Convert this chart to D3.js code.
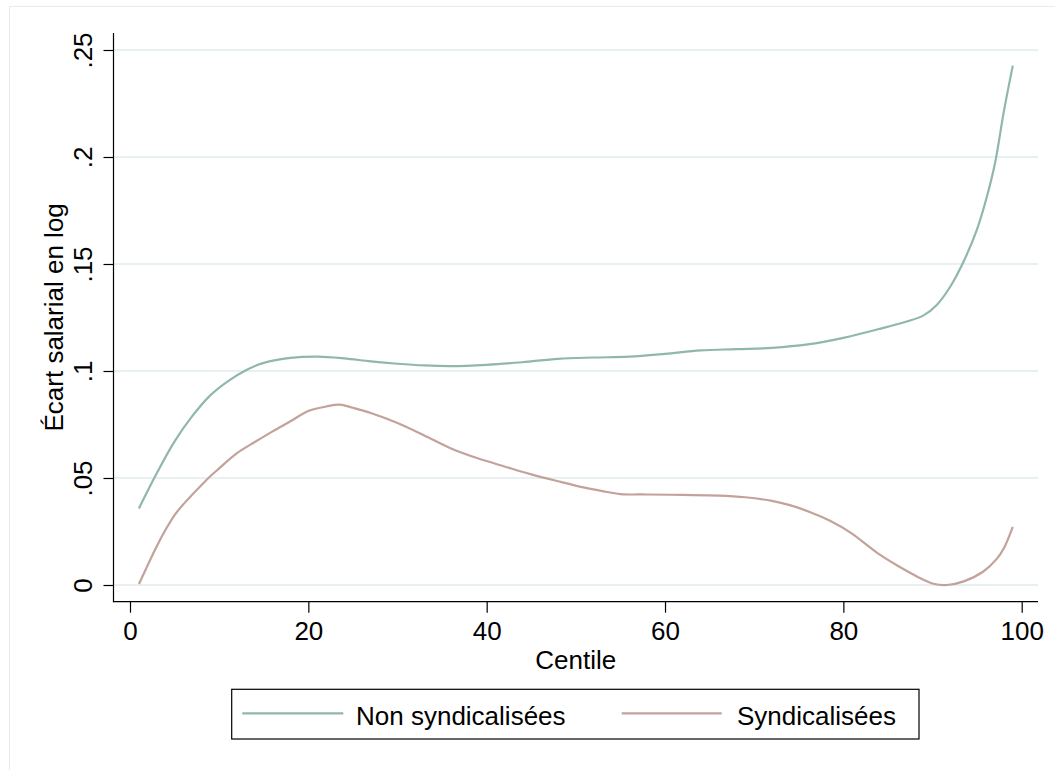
<!DOCTYPE html>
<html>
<head>
<meta charset="utf-8">
<script src="https://cdn.jsdelivr.net/npm/d3@7"></script>
<style>
  html, body { margin: 0; padding: 0; background: #ffffff; }
  svg { display: block; font-family: "Liberation Sans", Arial, Helvetica, sans-serif; }
</style>
</head>
<body>
<svg id="chart" width="1055" height="770"></svg>
<script>
// Écart salarial (log) par centile
const xTicks = [0, 20, 40, 60, 80, 100];
const yTicks = [0, 0.05, 0.1, 0.15, 0.2, 0.25];
const yTickLabels = ["0", ".05", ".1", ".15", ".2", ".25"];

const nonCentile = [1, 3, 5, 7, 9, 11, 13, 15, 18, 21, 24, 27, 30, 33, 36, 40, 44, 48, 52, 56, 60, 64, 68, 72, 76, 80, 84, 87, 89, 90.5, 92, 93.5, 95, 96, 97, 98, 99];
const nonValues  = [0.0358, 0.0522, 0.0671, 0.0790, 0.0886, 0.0953, 0.1004, 0.1038, 0.1061, 0.1067, 0.1059, 0.1045, 0.1034, 0.1026, 0.1023, 0.1029, 0.1041, 0.1057, 0.1063, 0.1067, 0.1080, 0.1096, 0.1102, 0.1108, 0.1124, 0.1155, 0.1196, 0.1230, 0.1260, 0.1310, 0.1395, 0.1513, 0.1663, 0.1800, 0.1970, 0.2213, 0.2427];

const synCentile = [1, 2, 3, 4, 5, 6, 7, 8, 9, 10, 12, 14, 16, 18, 20, 22, 23.5, 25, 27, 30, 33, 36, 39, 42, 45, 48, 51, 53, 55, 58, 62, 66, 69, 72, 74, 76.3, 78.5, 80.8, 83.8, 86, 88.25, 90.1, 91.6, 93.5, 95.7, 97.2, 98, 99];
const synValues  = [0.0005, 0.0094, 0.0181, 0.0259, 0.0327, 0.0378, 0.0423, 0.0466, 0.0508, 0.0545, 0.0616, 0.0668, 0.0718, 0.0765, 0.0813, 0.0834, 0.0843, 0.0828, 0.0804, 0.0757, 0.0699, 0.0638, 0.0592, 0.0554, 0.0517, 0.0485, 0.0455, 0.0439, 0.0425, 0.0423, 0.0421, 0.0418, 0.0410, 0.0393, 0.0373, 0.0340, 0.0300, 0.0245, 0.0150, 0.0092, 0.0040, 0.0006, 0.0000, 0.0017, 0.0063, 0.0122, 0.0172, 0.0272];

const seriesNames = ["Non syndicalisées", "Syndicalisées"];
const seriesColors = ["#8fb7ae", "#c2a29b"];

const svg = d3.select("#chart");

// outer graph region outline
svg.append("rect")
  .attr("x", 9.5).attr("y", 6.5)
  .attr("width", 1100).attr("height", 800)
  .attr("fill", "none").attr("stroke", "#e6edef").attr("stroke-width", 1);

const x = d3.scaleLinear().domain([0, 100]).range([130, 1021.7]);
const y = d3.scaleLinear().domain([0, 0.25]).range([585, 50]);

const plotLeft = 113.5, plotRight = 1038, plotTop = 33, plotBottom = 601.7;

// horizontal grid
svg.append("g").selectAll("line")
  .data(yTicks)
  .join("line")
  .attr("x1", plotLeft).attr("x2", plotRight)
  .attr("y1", d => y(d)).attr("y2", d => y(d))
  .attr("stroke", "#e9f0f2").attr("stroke-width", 2);

// series lines
const line = d3.line()
  .x(d => x(d[0])).y(d => y(d[1]))
  .curve(d3.curveCatmullRom.alpha(0.5));

const nonData = nonCentile.map((c, i) => [c, nonValues[i]]);
const synData = synCentile.map((c, i) => [c, synValues[i]]);

[nonData, synData].forEach((data, i) => {
  svg.append("path")
    .datum(data)
    .attr("d", line)
    .attr("fill", "none")
    .attr("stroke", seriesColors[i])
    .attr("stroke-width", 2.2)
    .attr("stroke-linejoin", "round");
});

// x axis
const xAxis = svg.append("g")
  .attr("transform", `translate(0,${plotBottom})`)
  .call(d3.axisBottom(x).tickValues(xTicks).tickSize(11).tickFormat(d3.format("d")));
xAxis.select(".domain").remove();
xAxis.selectAll(".tick line").attr("stroke", "#000").attr("stroke-width", 1.2);
xAxis.selectAll(".tick text")
  .attr("y", 38).attr("dy", 0)
  .attr("font-size", 26).attr("fill", "#000")
  .attr("font-family", "Liberation Sans, Arial, sans-serif");
svg.append("line")
  .attr("x1", plotLeft - 0.6).attr("x2", plotRight)
  .attr("y1", plotBottom).attr("y2", plotBottom)
  .attr("stroke", "#000").attr("stroke-width", 1.2);

// y axis
const yAxis = svg.append("g")
  .attr("transform", `translate(${plotLeft},0)`)
  .call(d3.axisLeft(y).tickValues(yTicks).tickSize(10)
    .tickFormat((d, i) => yTickLabels[i]));
yAxis.select(".domain").remove();
yAxis.selectAll(".tick line").attr("stroke", "#000").attr("stroke-width", 1.2);
yAxis.selectAll(".tick text")
  .attr("x", 0).attr("y", 0).attr("dy", 0)
  .attr("transform", "translate(-21.5,0) rotate(-90)")
  .attr("text-anchor", "middle")
  .attr("font-size", 26).attr("fill", "#000")
  .attr("font-family", "Liberation Sans, Arial, sans-serif");
svg.append("line")
  .attr("x1", plotLeft).attr("x2", plotLeft)
  .attr("y1", plotTop).attr("y2", plotBottom + 0.6)
  .attr("stroke", "#000").attr("stroke-width", 1.2);

// axis titles
svg.append("text")
  .attr("x", (plotLeft + plotRight) / 2).attr("y", 669)
  .attr("text-anchor", "middle").attr("font-size", 26).attr("fill", "#000")
  .text("Centile");
svg.append("text")
  .attr("transform", `translate(63,${(plotTop + plotBottom) / 2}) rotate(-90)`)
  .attr("text-anchor", "middle").attr("font-size", 26).attr("fill", "#000")
  .text("Écart salarial en log");

// legend
const legend = svg.append("g");
legend.append("rect")
  .attr("x", 231.7).attr("y", 689.3).attr("width", 687.3).attr("height", 49.7)
  .attr("fill", "#fff").attr("stroke", "#000").attr("stroke-width", 1.2);
const legendItems = [
  { x1: 242.3, x2: 343.3, tx: 356 },
  { x1: 621.7, x2: 721.7, tx: 737 }
];
legendItems.forEach((it, i) => {
  legend.append("line")
    .attr("x1", it.x1).attr("x2", it.x2)
    .attr("y1", 713.3).attr("y2", 713.3)
    .attr("stroke", seriesColors[i]).attr("stroke-width", 2.2);
  legend.append("text")
    .attr("x", it.tx).attr("y", 725)
    .attr("font-size", 26).attr("fill", "#000")
    .text(seriesNames[i]);
});
</script>
</body>
</html>
